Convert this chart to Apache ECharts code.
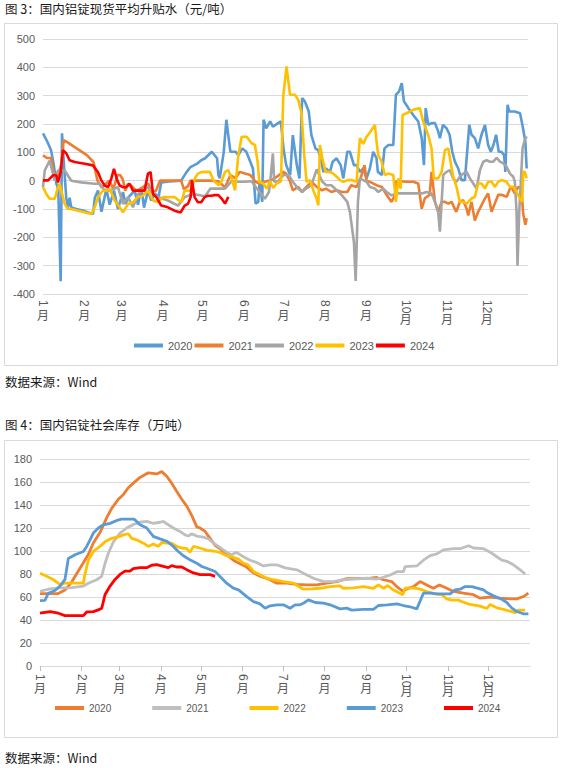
<!DOCTYPE html>
<html><head><meta charset="utf-8">
<script src="https://cdn.jsdelivr.net/npm/echarts@6/dist/echarts.min.js"></script>
<style>
html,body{margin:0;padding:0;background:#fff;width:563px;height:768px;overflow:hidden}
#c1{position:absolute;left:0;top:0;width:563px;height:395px}
#c2{position:absolute;left:0;top:395px;width:563px;height:373px}
</style>
</head><body><div id="c1"></div><div id="c2"></div>
<script>
// ---- axis data ----
const monthStarts = [0,31,59,90,120,151,181,212,243,273,304,334];
const monthNums = ['1','2','3','4','5','6','7','8','9','10','11','12'];
const monthSuffix = '月';
const years = ['2020','2021','2022','2023','2024'];
const spreadTicks = [-400,-300,-200,-100,0,100,200,300,400,500];
const stockTicks = [0,20,40,60,80,100,120,140,160,180];

// ---- 图3: 现货平均升贴水 (元/吨), [day of year, value] ----
const spread2020 = [[0,167],[3,140],[6,108],[8,60],[10,-10],[11.5,-30],[13.3,-355],[14.3,167],[16,40],[17.5,-60],[18.8,-95],[20,-60],[21.3,-95],[25,-100],[30,-105],[37.6,-118],[39,-60],[41.4,-35],[44,-110],[47.7,-29],[50.2,-85],[53.4,-35],[56.4,-100],[60.2,-40],[62,-82],[65,-55],[69,-35],[71.5,-85],[74,-23],[76,-95],[79,-35],[81.5,-70],[84,-45],[87,-58],[89,-6],[95,-3],[104,0],[108,30],[111,48],[116,60],[119,72],[122,79],[127,102],[131,79],[132,20],[133,8],[136,100],[138,215],[141,102],[145,102],[147,90],[150,114],[153,102],[156,67],[158,43],[160,-81],[162,-75],[163,-4],[165,-75],[166,215],[168,185],[171,209],[173,191],[177,203],[179,209],[181,114],[183,55],[186,20],[188,161],[191,55],[193,8],[195,292],[197,280],[200,244],[202,161],[205,114],[207,108],[209,79],[211,31],[213,43],[216,31],[218,67],[221,79],[224,55],[226,8],[229,102],[231,102],[234,55],[236,55],[238.5,31],[241,43],[243.5,8],[246,43],[248.5,102],[251,79],[252,31],[255,20],[257,114],[260,126],[263.6,126],[265.6,303],[268,315],[270,344],[271.6,280],[275,256],[278.6,232],[282.4,209],[285,150],[286.7,55],[288,256],[290,197],[292.4,203],[295,203],[297.4,174],[298.7,150],[301,197],[303.7,185],[306,162],[308,102],[310,67],[312.5,43],[315,2],[317.5,2],[319,90],[320.8,197],[322.5,162],[325,150],[327.5,114],[330,162],[332.6,197],[335,126],[337,102],[339,126],[341,162],[343,102],[345,102],[347,90],[348,31],[349.6,268],[351,244],[355,244],[359,238],[361,191],[363,138],[364,43]];
const spread2021 = [[0,89],[3,80],[6,80],[8,30],[10,10],[12,30],[14,60],[15.5,143],[18,137],[25,115],[33,90],[38,66],[41,0],[44,-23],[47,-12],[50,0],[53,-30],[56,20],[58,20],[60,5],[62,-35],[64,-11],[67,-20],[70,-35],[73,-30],[76,-20],[79,-10],[82,-40],[85,-36],[88,0],[95,0],[104,0],[106,-30],[109,-20],[111,0],[120,0],[126,0],[132,-2],[137,-24],[141,20],[145,8],[148,31],[152,25],[156,20],[160,-4],[163,-10],[167,-4],[172,2],[176,14],[181,31],[183,25],[186,-4],[188,-34],[192,-22],[195,-40],[197,-28],[202,-4],[206,-22],[210,-34],[213,-28],[217,-40],[221,-34],[225,-40],[229,-40],[232,-16],[236,-22],[239,8],[242,55],[243.5,-2],[246,-4],[251,-16],[255,-22],[258.5,-50],[262.3,-75],[265,-50],[266,-2],[268.6,-2],[273.6,-4],[278.6,-4],[282.4,-10],[285,-99],[287.4,-62],[291,-50],[292.4,31],[295,-75],[297.4,-110],[300,-75],[302.5,-75],[305,-81],[307.5,-75],[311,-110],[313.7,-75],[316.2,-69],[318.8,-99],[320,-123],[322.5,-75],[325,-141],[327.5,-110],[330,-87],[332.6,-63],[335,-45],[337.6,-110],[340,-81],[342.6,-50],[345,-50],[349,-57],[351.4,-28],[352.6,-22],[355,-45],[357.6,-22],[360,-28],[361.4,-117],[363,-156],[364,-133]];
const spread2022 = [[0,-23],[1.3,36],[5,71],[6.3,48],[8.8,1],[11.3,36],[16.3,36],[21.3,0],[28.8,-6],[38.9,-11],[42.6,-11],[46.4,-35],[50,-35],[56.4,-23],[60.2,-82],[64,-58],[67.7,-94],[71.5,-47],[79,-23],[82.8,-47],[86.5,-58],[94,-70],[101.6,-88],[106.6,-58],[112.9,-47],[122,-55],[126,-28],[132,-28],[137,-28],[142,-2],[147,-4],[152,-4],[157,-2],[160,-22],[163,-40],[167,-64],[170,-40],[171,-4],[173,96],[174,-4],[177,-2],[181,20],[185,20],[188,-4],[192,-28],[195,-40],[198,-28],[202,-16],[206,40],[210,-2],[213,-16],[217,-16],[221,-34],[225,-52],[229,-75],[231,-111],[234,-217],[235.3,-354],[237,-75],[238.5,8],[243.5,-4],[246,-22],[249.8,-28],[252.3,-40],[256,-28],[258.6,-40],[262.3,-52],[266.1,-45],[271,-45],[276,-45],[281,-45],[285,-45],[288.7,-40],[292.4,-45],[295,-75],[297.4,-110],[298.7,-180],[300,-75],[301.2,20],[303.7,31],[306.2,37],[308.7,8],[311.2,-4],[313.7,14],[316.3,25],[318.8,31],[321.3,8],[323.8,-10],[326.3,-28],[328.8,37],[331.3,67],[333.9,72],[336.4,67],[338.9,67],[341.4,81],[343.9,67],[346.4,61],[348.9,49],[351.4,25],[353.9,14],[355.1,-4],[356.4,-110],[357.1,-300],[358.4,-110],[359.6,-4],[360.9,114],[362.6,144],[364,156]];
const spread2023 = [[0,-23],[2.5,-47],[5,-64],[8.8,-64],[11.3,-23],[12.5,-11],[13.8,-35],[16.3,-82],[18.8,-100],[21.3,-100],[36.4,-118],[38.9,-94],[41.4,-58],[45.1,-35],[47.7,-35],[50.2,-29],[53.9,-70],[57.7,-94],[60.2,-112],[64,-82],[67.7,-76],[71.5,-58],[75.2,-53],[79,-35],[82.8,-70],[86.5,-76],[90.3,-58],[94,-58],[99,-58],[104.1,-76],[106.6,-35],[111.6,-35],[114.1,7],[116.6,25],[119.1,30],[122,31],[125.6,31],[128.2,2],[132,-16],[134.4,-2],[137,31],[139.5,37],[142,8],[144.5,-34],[147,90],[149.5,155],[153.3,155],[157,132],[159.5,126],[161.5,67],[162.8,-4],[165.8,-10],[168.3,-28],[170.8,-2],[173.3,-26],[175.8,-10],[179.1,-2],[180.8,297],[183.3,403],[185.9,303],[189.6,303],[192.1,285],[194.6,238],[196.6,90],[198.4,-4],[200.9,2],[203.4,-34],[205.9,-63],[207.2,-87],[208.4,126],[210.2,79],[212.7,31],[216,31],[218.5,25],[221,14],[223.5,2],[226,-4],[229.3,2],[232.3,2],[236,-4],[238.5,150],[241,130],[243.5,155],[246,170],[249.8,197],[251,138],[252.3,90],[254.8,67],[257.3,20],[259.8,25],[263.6,20],[265.6,-75],[267.4,8],[269.1,-28],[270.6,232],[273.6,238],[278.6,250],[283.6,256],[286.1,209],[289.9,161],[292.4,114],[294.1,8],[297.4,8],[300,31],[302.5,108],[305,114],[306.7,67],[308.7,14],[311.2,-22],[313.7,-75],[316.3,-75],[318.8,-81],[322.5,-63],[325,-57],[327.5,-10],[330,-10],[332.6,-28],[335,-4],[337.6,-4],[340,-22],[342.6,-4],[345,2],[348.9,-4],[351.4,-22],[353.9,-22],[356.4,-40],[358.9,-63],[360.6,-75],[361.4,31],[362.6,31],[364,8]];
const spread2024 = [[0,1],[3.8,1],[7.5,19],[10,19],[11.3,-6],[13.3,30],[15,108],[17.6,96],[20,72],[23.8,66],[31.4,60],[37.6,54],[41.4,30],[43.9,1],[46.4,-17],[48.9,-23],[51.4,7],[53.4,42],[55.9,1],[57.7,-17],[60.2,-23],[62.7,-23],[65.2,-11],[67.7,-35],[70.2,-35],[74,-35],[76.5,-35],[79,25],[81,30],[82.8,-47],[85.3,-58],[89,-88],[94,-94],[99,-106],[103.6,-112],[106.6,-88],[109.1,-82],[111.1,-58],[112.1,1],[114.1,-58],[116.6,-76],[119.1,-76],[121.6,-58],[124.2,-53],[126.7,-53],[129,-51],[132,-51],[134.4,-63],[137,-81],[139.5,-57]];

// ---- 图4: 社会库存 (万吨), [day of year, value] ----
const stock2020 = [[0,63],[13.6,63],[18.6,66],[23.6,73],[29.8,85],[36,97],[39.7,107],[44.7,116],[49.7,129],[53.4,137],[58.4,145],[62,149],[65.8,155],[69.5,159],[74.5,164],[80.7,168],[86.9,167],[90.7,169],[94.4,165],[98.1,159],[101.8,152],[105.6,145],[109.3,139],[113,131],[116.8,121],[119.2,120],[123,117],[126.7,111],[130.4,105],[134.1,102],[139,97],[144,92],[149,89],[154,86],[159,81],[164,78],[171.4,75],[176.4,72],[183.8,72],[191.3,71],[198.7,70.5],[206.2,70.5],[213.6,72],[221.1,73.4],[228.5,76],[236,76],[243.4,76],[250.8,77],[255.8,75],[262,73.4],[265.8,69],[270.2,65],[274.4,67.6],[278.2,69],[283.1,73.4],[288.1,70.5],[293,67.6],[297.5,70.5],[303,67.6],[308,64.8],[315.4,63.3],[322.9,62],[327.8,59],[335.3,60],[342.7,59],[350.2,58.4],[355.2,58.4],[360.1,60.4],[363.8,63.3]];
const stock2021 = [[0,65],[7.5,67],[14.9,68],[22.3,68],[32.3,69.5],[36,72],[42.2,75],[45.9,78],[48.4,89],[50.9,98],[54.7,108],[59.6,115.6],[64.6,120],[69.5,123],[74.5,125],[79.5,125.7],[84.4,124],[89.4,125],[91.9,125.7],[94.4,123.7],[99.3,120],[104.3,117],[108,114],[110.5,113],[113,115],[116.7,113],[121.7,112],[125.5,110.5],[130.4,106],[135.3,102],[139,99],[142.7,96.7],[146.4,98.8],[151.5,95],[156.5,92],[161.4,90],[166.4,87],[171.4,88],[176.4,88],[182.6,85.3],[191.3,83.6],[196.2,80.7],[203.7,76.3],[211.2,73.4],[218.6,73.4],[226,75],[233.5,75.5],[243.4,76.3],[250.8,75.5],[255.8,77.2],[261,79.2],[265.8,82],[270.7,82],[272,86.5],[280.7,87],[285.6,92],[290.6,96],[295.6,97.5],[300.5,101],[308,102],[313,102],[319.2,104.6],[322.9,102.6],[330.4,102],[335.3,99],[340.3,95],[344,92],[347.8,91],[352.7,88],[357.7,83.6],[361.4,80]];
const stock2022 = [[0,80.7],[5,78],[10,75],[14.9,71],[18.6,72],[22.3,72],[27.3,72],[32.3,72],[33.5,80],[36,92],[39.7,99.6],[44.7,104],[48.4,108],[53.4,111],[58.4,112.3],[62,114],[65.8,115],[68.3,111],[72,109.7],[77,106.8],[80.7,104],[84.4,106],[88.1,104],[90.7,107.4],[94.4,106.8],[98.1,106.8],[101.8,104],[105.6,102.6],[109.3,102],[111.7,98.8],[114.3,104],[119.2,102.6],[124.2,100.6],[129,100],[134.1,98.8],[139,95.9],[144,94.5],[147.9,93],[151.5,89.4],[155,88],[159,82.2],[163.9,79.3],[168.9,76.4],[173.9,75],[181.3,73.4],[188.8,72],[193.7,68.5],[196.2,66.8],[202.4,67],[208.7,67.6],[216.1,69],[223.5,69.7],[226,67.6],[233.5,68],[241,69],[248.4,67.6],[252.1,70.5],[256,67.6],[259,70],[263.3,66],[267,63.9],[270.2,62],[272,67.6],[278.2,68],[283.1,66.8],[288.1,64.8],[294.3,62.8],[299.3,62],[303,58.4],[306.7,57.3],[311.7,57.3],[315.4,55.5],[320.4,53.5],[327.8,52],[332.9,50],[335.3,53.5],[340.3,50.6],[345.2,49.2],[350.2,47.7],[354,46.3],[356.4,48.6],[361.4,48.6]];
const stock2023 = [[0,56.9],[3.7,57],[6.2,63.3],[11.2,65.6],[14.9,69.5],[18.6,75.3],[21.1,93.4],[26.1,96.7],[32.3,99.6],[34.8,104],[37.3,109.7],[39.7,115.6],[43.5,120],[47.2,122.8],[52.2,124],[57.2,126.6],[60.8,127.7],[65.8,127.7],[69.5,127.7],[70.7,127.2],[74.5,122.8],[79.5,120],[84.4,112.7],[89.4,110.5],[94.4,108.5],[99.3,104],[103,99.6],[106.8,95.9],[111.7,92.3],[116.7,89.4],[120.5,86.5],[124.2,85],[130.4,82.2],[134.1,77.8],[139,72],[144,67.7],[147.9,66.2],[151.5,62.7],[154,60.4],[159,56],[163.9,54],[167.7,50.2],[171.4,52.3],[176.4,53.2],[181.3,53.2],[186.3,50.2],[190,53.2],[193.7,53.2],[196.2,54.6],[200,57.5],[205,55.2],[211.2,54.6],[216.1,53.2],[223.5,49.7],[228.5,50.3],[232.2,48.6],[241,49.2],[248.4,49.2],[252.1,52.6],[258.6,53.2],[265.8,54],[270.7,52.6],[275.7,51.5],[280.7,49.7],[285.6,63.3],[290.6,63.3],[295.6,62.8],[300.5,62.8],[305.5,62.8],[309.2,66.2],[313,66.8],[316.7,69.1],[321.7,69.1],[330.4,66.2],[332.9,63.9],[337.8,61],[344,58],[347.8,55.2],[351.5,50.3],[355.2,47.4],[360.1,45.4],[363.8,45.4]];
const stock2024 = [[0,45.9],[7.5,47.3],[13.7,45.9],[18.6,43.8],[24.8,43.8],[32.3,43.8],[34.8,47],[39.7,47.3],[43.5,48.8],[46,50.2],[48.4,62],[52.2,69.5],[55.9,75.3],[59.6,79.6],[63.3,82.5],[67,82.5],[69.5,84.6],[74.5,85.5],[79.5,85.5],[83.2,87.6],[86.9,88.2],[91.9,86.7],[95.6,85.5],[98.1,87.3],[101.8,86.1],[105.6,86.1],[109.3,83.8],[114.3,80.9],[119.2,79.4],[123,79.4],[126.7,79.4],[130.4,78]];

const spreadColors = ['#5b9bd5','#ed7d31','#a5a5a5','#ffc000','#ff0000'];
const stockColors = ['#ed7d31','#bfbfbf','#ffc000','#5b9bd5','#ff0000'];

const FONT = "'Liberation Sans','Noto Sans CJK SC',sans-serif";
const CJK = "'Noto Sans CJK SC',sans-serif";
const idxOf = v => monthStarts.indexOf(Math.round(v));

// digits rotated (vertical text), '月' upright below them, like Excel's stacked labels
function xAxesCfg(gridIndex, digitMargin, sufMargin, longShift, ticks) {
  const base = {
    type: 'value', min: 0, max: 365, position: 'bottom', gridIndex: gridIndex,
    splitLine: { show: false }
  };
  return [
    Object.assign({}, base, {
      axisLine: { show: ticks, onZero: false, lineStyle: { color: '#d9d9d9' } },
      axisTick: { show: ticks, customValues: monthStarts, length: 5, lineStyle: { color: '#bfbfbf' } },
      axisLabel: { customValues: monthStarts, formatter: v => monthNums[idxOf(v)] || '', rotate: -90,
        margin: digitMargin, color: '#595959', fontSize: 12, fontFamily: FONT }
    }),
    Object.assign({}, base, {
      axisLine: { show: false, onZero: false }, axisTick: { show: false },
      axisLabel: { customValues: monthStarts, margin: sufMargin,
        formatter: v => { const i = idxOf(v); if (i < 0) return ''; return (monthNums[i].length > 1 ? '{l|' : '{s|') + monthSuffix + '}'; },
        rich: {
          s: { color: '#595959', fontSize: 12, fontFamily: CJK, lineHeight: 13 },
          l: { color: '#595959', fontSize: 12, fontFamily: CJK, lineHeight: 13, padding: [longShift, 0, 0, 0] }
        } }
    })
  ];
}
function yAxisCfg(ticks) {
  return {
    type: 'value', min: ticks[0], max: ticks[ticks.length - 1], interval: ticks[1] - ticks[0],
    axisLine: { show: false }, axisTick: { show: false },
    splitLine: { lineStyle: { color: '#d9d9d9', width: 1 } },
    axisLabel: { color: '#595959', fontSize: 11, fontFamily: FONT, margin: 8 }
  };
}
function textEl(x, y, text, size) {
  return { type: 'text', x: x, y: y, silent: true,
    style: { text: text, fontSize: size, fontFamily: CJK, fill: '#1a1a1a', verticalAlign: 'middle', align: 'left' } };
}

// ---- chart 1 ----
const c1 = echarts.init(document.getElementById('c1'), null, { renderer: 'svg' });
const spreadSeries = [spread2020, spread2021, spread2022, spread2023, spread2024];
c1.setOption({
  animation: false,
  graphic: [
    { type: 'rect', shape: { x: 4.5, y: 23.5, width: 553, height: 342 }, style: { fill: 'none', stroke: '#d9d9d9', lineWidth: 1 }, silent: true },
    textEl(5, 8, '图 3：国内铝锭现货平均升贴水（元/吨）', 12.5),
    textEl(5, 381, '数据来源：Wind', 12.5)
  ],
  grid: { left: 43, top: 39, width: 485, height: 255 },
  xAxis: xAxesCfg(0, 6, 14, 7, false),
  yAxis: yAxisCfg(spreadTicks),
  legend: { left: 134, top: 340, padding: 0, icon: 'rect', itemWidth: 29, itemHeight: 4, itemGap: 2,
    textStyle: { color: '#595959', fontSize: 11, fontFamily: FONT }, data: years },
  series: years.map((y, i) => ({
    name: y, type: 'line', data: spreadSeries[i], showSymbol: false, symbol: 'none',
    color: spreadColors[i], lineStyle: { width: 2.6, color: spreadColors[i] }
  }))
});

// ---- chart 2 ----
const c2 = echarts.init(document.getElementById('c2'), null, { renderer: 'svg' });
const stockSeries = [stock2020, stock2021, stock2022, stock2023, stock2024];
c2.setOption({
  animation: false,
  graphic: [
    { type: 'rect', shape: { x: 4.5, y: 45.5, width: 553, height: 297 }, style: { fill: 'none', stroke: '#d9d9d9', lineWidth: 1 }, silent: true },
    textEl(5, 29, '图 4：国内铝锭社会库存（万吨）', 12.5),
    textEl(5, 362, '数据来源：Wind', 12.5)
  ],
  grid: { left: 40, top: 64, width: 490, height: 207 },
  xAxis: xAxesCfg(0, 8, 15, 6, true),
  yAxis: yAxisCfg(stockTicks),
  legend: { left: 55, top: 308, padding: 0, icon: 'rect', itemWidth: 29, itemHeight: 4, itemGap: 41,
    textStyle: { color: '#595959', fontSize: 10, fontFamily: FONT }, data: years },
  series: years.map((y, i) => ({
    name: y, type: 'line', data: stockSeries[i], showSymbol: false, symbol: 'none',
    color: stockColors[i], lineStyle: { width: 2.8, color: stockColors[i] }
  }))
});
</script>
</body></html>
